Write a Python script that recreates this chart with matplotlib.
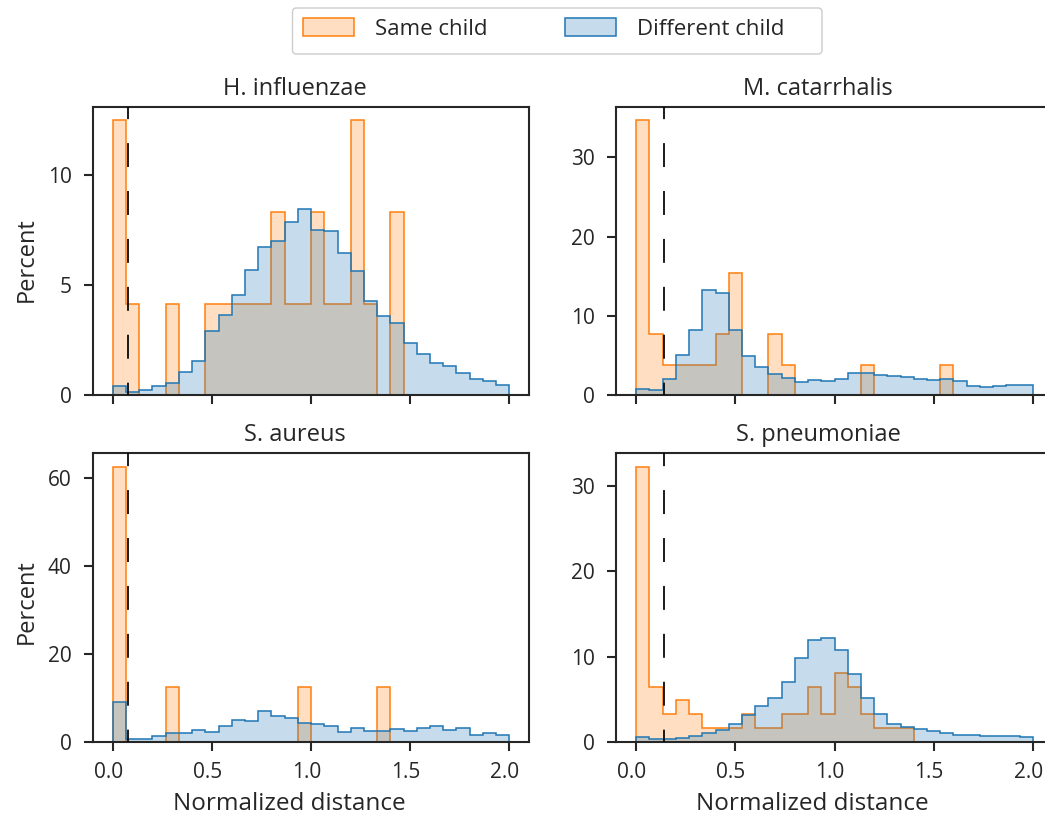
import matplotlib
matplotlib.use('Agg')
import matplotlib.pyplot as plt
import numpy as np
from matplotlib.colors import to_rgba
from matplotlib.patches import FancyBboxPatch, Patch
from matplotlib.transforms import IdentityTransform, ScaledTranslation

plt.rcParams['font.family'] = ['Open Sans', 'DejaVu Sans']
plt.rcParams['text.color'] = '.15'
plt.rcParams['axes.labelcolor'] = '.15'
plt.rcParams['axes.edgecolor'] = '.15'
plt.rcParams['xtick.color'] = '.15'
plt.rcParams['ytick.color'] = '.15'

# 30 bins of normalized distance from 0 to 2
bin_edges = np.linspace(0, 2, 31)

species = ['H. influenzae', 'M. catarrhalis', 'S. aureus', 'S. pneumoniae']
thresholds = [0.074, 0.141, 0.074, 0.141]
yticks = [[0, 5, 10], [0, 10, 20, 30], [0, 20, 40, 60], [0, 10, 20, 30]]

# same child: pair counts per bin
same_h_influenzae = [3, 1, 0, 0, 1, 0, 0, 1, 1, 1, 1, 1, 2, 1, 1,
                     2, 1, 1, 3, 1, 0, 2, 0, 0, 0, 0, 0, 0, 0, 0]
same_m_catarrhalis = [9, 2, 1, 1, 1, 1, 2, 4, 0, 0, 2, 1, 0, 0, 0,
                      0, 0, 1, 0, 0, 0, 0, 0, 1, 0, 0, 0, 0, 0, 0]
same_s_aureus = [5, 0, 0, 0, 1, 0, 0, 0, 0, 0, 0, 0, 0, 0, 1,
                 0, 0, 0, 0, 0, 1, 0, 0, 0, 0, 0, 0, 0, 0, 0]
same_s_pneumoniae = [20, 4, 2, 3, 2, 1, 1, 1, 2, 1, 1, 2, 2, 4, 2,
                     5, 4, 2, 1, 1, 1, 0, 0, 0, 0, 0, 0, 0, 0, 0]

# different child: percent per bin
diff_h_influenzae = [0.44, 0.15, 0.26, 0.44, 0.55, 1.08, 1.58, 2.93, 3.66, 4.57,
                     5.70, 6.73, 7.01, 7.87, 8.47, 7.52, 7.49, 6.46, 5.65, 4.30,
                     3.62, 3.28, 2.39, 1.90, 1.49, 1.32, 1.00, 0.73, 0.67, 0.49]
diff_m_catarrhalis = [0.84, 0.67, 2.10, 5.05, 8.25, 13.3, 12.87, 8.25, 4.92, 3.62,
                      2.69, 2.23, 1.72, 1.94, 1.81, 2.10, 2.86, 2.86, 2.52, 2.48,
                      2.36, 2.02, 1.98, 2.02, 1.85, 1.22, 1.09, 1.14, 1.35, 1.35]
diff_s_aureus = [9.03, 0.61, 0.61, 1.29, 1.90, 2.05, 2.66, 2.12, 3.57, 4.93,
                 4.78, 6.90, 5.77, 5.46, 4.17, 4.02, 3.57, 2.28, 3.19, 2.50,
                 2.50, 2.81, 2.50, 3.19, 3.49, 2.66, 3.19, 1.59, 1.90, 1.52]
diff_s_pneumoniae = [0.59, 0.27, 0.35, 0.47, 0.63, 1.06, 1.37, 2.12, 3.18, 4.16,
                     5.18, 6.95, 9.82, 11.90, 12.13, 10.76, 7.97, 5.10, 3.26, 2.08,
                     1.73, 1.49, 1.22, 0.98, 0.82, 0.82, 0.71, 0.71, 0.63, 0.51]

same_child = [same_h_influenzae, same_m_catarrhalis, same_s_aureus, same_s_pneumoniae]
diff_child = [diff_h_influenzae, diff_m_catarrhalis, diff_s_aureus, diff_s_pneumoniae]

c_same = '#ff7f0e'
c_diff = '#1f77b4'

fig, axes = plt.subplots(2, 2, figsize=(10.45, 8.14), dpi=100, sharex=True)
fig.subplots_adjust(left=0.089, right=1.0073, bottom=0.0888, top=0.8689,
                    wspace=0.2, hspace=0.2)

ylabel_y = [0.469, None, 0.486, None]
# x tick labels sit a few pixels left of their ticks in the original
shift_left = ScaledTranslation(-0.045, 0, fig.dpi_scale_trans)

for i, ax in enumerate(axes.flat):
    same = np.asarray(same_child[i], dtype=float)
    same_pct = 100 * same / same.sum()
    diff_pct = np.asarray(diff_child[i])
    for vals, c in [(same_pct, c_same), (diff_pct, c_diff)]:
        ax.stairs(vals, bin_edges, fill=True, color=c, alpha=0.25, lw=0)
        ax.stairs(vals, bin_edges, color=c, lw=1.1)
    ax.axvline(thresholds[i], color='k', lw=1.25,
               linestyle=(6.7, (13.8, 13.8)), zorder=5)
    ax.set_title(species[i], fontsize=17, x=0.462, pad=8.4)
    ax.set_yticks(yticks[i])
    ax.set_xticks([0, 0.5, 1.0, 1.5, 2.0])
    ax.tick_params(axis='both', length=6.3, width=1.5, labelsize=15)
    ax.tick_params(axis='x', pad=8)
    ax.tick_params(axis='y', pad=9)
    for sp in ax.spines.values():
        sp.set_linewidth(1.5)
    if i % 2 == 0:
        ax.set_ylabel('Percent', fontsize=17)
        ax.yaxis.set_label_coords(-0.1245, ylabel_y[i])
    if i >= 2:
        ax.set_xlabel('Normalized distance', fontsize=17.5)
        ax.xaxis.set_label_coords(0.449, -0.174)
        for lbl in ax.get_xticklabels():
            lbl.set_transform(lbl.get_transform() + shift_left)

# legend frame (pixels), wider than its text like the original
frame = FancyBboxPatch((292.5, 814 - 54), 529.5, 46,
                       boxstyle='round,pad=0,rounding_size=4',
                       facecolor='white', edgecolor='0.8', lw=1.0,
                       transform=IdentityTransform())
fig.add_artist(frame)

handles = [Patch(facecolor=to_rgba(c_same, 0.25), edgecolor=c_same, lw=1.1),
           Patch(facecolor=to_rgba(c_diff, 0.25), edgecolor=c_diff, lw=1.1)]
leg = fig.legend(handles, ['Same child', 'Different child'], loc='upper left',
                 bbox_to_anchor=(292.5 / 1045, 0.990), ncol=2, fontsize=16,
                 handlelength=2.3, handleheight=0.88, handletextpad=0.95,
                 columnspacing=3.5, borderpad=0.45, borderaxespad=0,
                 frameon=False)

fig.savefig('out.png', dpi=100)
